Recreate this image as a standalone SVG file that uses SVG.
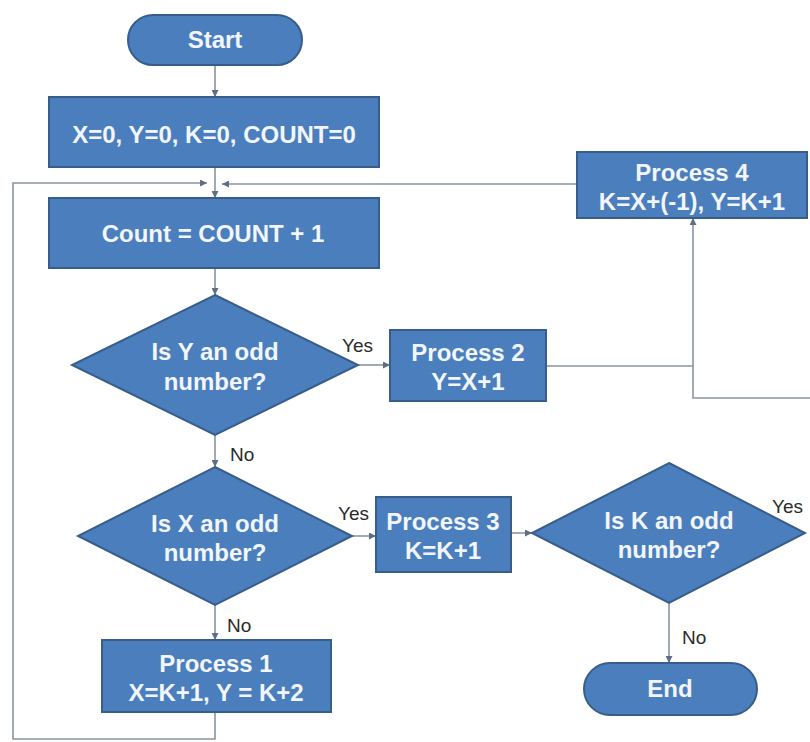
<svg xmlns="http://www.w3.org/2000/svg" width="810" height="742" viewBox="0 0 810 742">
<style>
.n{fill:#4a7ebd;stroke:#385d8a;stroke-width:2}
.t{font-family:"Liberation Sans",Arial,sans-serif;font-weight:bold;font-size:24px;fill:#f2f6fc;text-anchor:middle}
.l{font-family:"Liberation Sans",Arial,sans-serif;font-size:19px;fill:#2a2a2a}
.c{fill:none;stroke:#8a94a2;stroke-width:1.6}
</style>
<defs>
<marker id="a" viewBox="0 0 10 10" refX="10" refY="5" markerWidth="7" markerHeight="7" markerUnits="userSpaceOnUse" orient="auto">
<path d="M0,0 L10,5 L0,10 z" fill="#5d6e86"/>
</marker>
</defs>
<rect width="810" height="742" fill="#ffffff"/>
<g id="connectors">
<path class="c" d="M215 65 V97" marker-end="url(#a)"/>
<path class="c" d="M215 167 V198" marker-end="url(#a)"/>
<path class="c" d="M215 712 V739 H13 V183 H207" marker-end="url(#a)"/>
<path class="c" d="M577 184 H222" marker-end="url(#a)"/>
<path class="c" d="M215 268 V295" marker-end="url(#a)"/>
<path class="c" d="M358 365 H390" marker-end="url(#a)"/>
<path class="c" d="M546 366 H693"/>
<path class="c" d="M810 398 H693 V218" marker-end="url(#a)"/>
<path class="c" d="M215 435 V467" marker-end="url(#a)"/>
<path class="c" d="M352 536 H376" marker-end="url(#a)"/>
<path class="c" d="M511 533 H532" marker-end="url(#a)"/>
<path class="c" d="M669 603 V663" marker-end="url(#a)"/>
<path class="c" d="M215 605 V640" marker-end="url(#a)"/>
<text class="l" x="342" y="352">Yes</text>
<text class="l" x="230" y="461">No</text>
<text class="l" x="338" y="520">Yes</text>
<text class="l" x="227" y="632">No</text>
<text class="l" x="772" y="513">Yes</text>
<text class="l" x="682" y="644">No</text>
</g>
<g id="start">
<rect class="n" x="128" y="15" width="174" height="50" rx="25"/>
<text class="t" x="215" y="48">Start</text>
</g>
<g id="init">
<rect class="n" x="49" y="97" width="330" height="70"/>
<text class="t" x="214" y="143">X=0, Y=0, K=0, COUNT=0</text>
</g>
<g id="count">
<rect class="n" x="49" y="198" width="330" height="70"/>
<text class="t" x="213" y="242">Count = COUNT + 1</text>
</g>
<g id="decY">
<polygon class="n" points="215,295 358,365 215,435 72,365"/>
<text class="t" x="215" y="360">Is Y an odd</text>
<text class="t" x="215" y="390">number?</text>
</g>
<g id="process2">
<rect class="n" x="390" y="330" width="156" height="71"/>
<text class="t" x="468" y="361">Process 2</text>
<text class="t" x="468" y="390">Y=X+1</text>
</g>
<g id="process4">
<rect class="n" x="577" y="152" width="230" height="66"/>
<text class="t" x="692" y="181">Process 4</text>
<text class="t" x="692" y="210">K=X+(-1), Y=K+1</text>
</g>
<g id="decX">
<polygon class="n" points="215,467 352,536 215,605 78,536"/>
<text class="t" x="215" y="532">Is X an odd</text>
<text class="t" x="215" y="561">number?</text>
</g>
<g id="process3">
<rect class="n" x="376" y="497" width="135" height="75"/>
<text class="t" x="443" y="530">Process 3</text>
<text class="t" x="443" y="559">K=K+1</text>
</g>
<g id="decK">
<polygon class="n" points="669,463 805,533 669,603 532,533"/>
<text class="t" x="669" y="529">Is K an odd</text>
<text class="t" x="669" y="558">number?</text>
</g>
<g id="end">
<rect class="n" x="584" y="663" width="173" height="52" rx="26"/>
<text class="t" x="670" y="697">End</text>
</g>
<g id="process1">
<rect class="n" x="102" y="640" width="229" height="72"/>
<text class="t" x="216" y="672">Process 1</text>
<text class="t" x="216" y="701">X=K+1, Y = K+2</text>
</g>
</svg>
